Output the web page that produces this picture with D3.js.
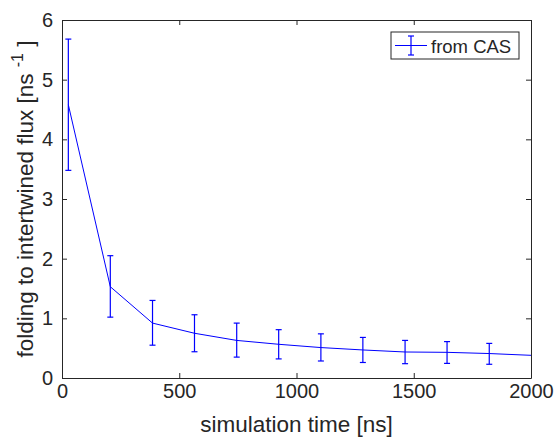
<!DOCTYPE html>
<html><head><meta charset="utf-8">
<script src="https://cdn.jsdelivr.net/npm/d3@7"></script>
<style>body{margin:0;background:#fff}svg{display:block}text{font-family:"Liberation Sans",Arial,sans-serif;fill:#262626}</style>
</head><body>
<script>
const times = [27, 206, 386, 565, 745, 924, 1104, 1283, 1463, 1642, 1822, 2000];
const flux  = [4.58, 1.53, 0.92, 0.75, 0.63, 0.565, 0.51, 0.47, 0.436, 0.43, 0.41, 0.38];
const errHi = [5.68, 2.05, 1.30, 1.06, 0.92, 0.81, 0.74, 0.68, 0.63, 0.61, 0.58, null];
const errLo = [3.48, 1.02, 0.55, 0.44, 0.35, 0.32, 0.285, 0.26, 0.24, 0.245, 0.23, null];
const xTicks = [0, 500, 1000, 1500, 2000];
const yTicks = [0, 1, 2, 3, 4, 5, 6];
const seriesName = "from CAS";

const W = 558, H = 442;
const m = {l: 62, r: 27, t: 20, b: 64};
const svg = d3.select("body").append("svg").attr("width", W).attr("height", H);
const x = d3.scaleLinear().domain([0, 2000]).range([m.l, W - m.r]);
const y = d3.scaleLinear().domain([0, 6]).range([H - m.b, m.t]);
const ax = "#262626", blue = "#0000ff";

svg.append("defs").append("clipPath").attr("id", "clip").append("rect")
  .attr("x", m.l).attr("y", m.t).attr("width", W - m.l - m.r).attr("height", H - m.t - m.b);

const g = svg.append("g").attr("clip-path", "url(#clip)");
const data = times.map((t, i) => ({t, v: flux[i], hi: errHi[i], lo: errLo[i]}));
g.append("path").datum(data)
  .attr("d", d3.line().x(d => x(d.t)).y(d => y(d.v)))
  .attr("fill", "none").attr("stroke", blue).attr("stroke-width", 1);
const eb = g.selectAll(".eb").data(data.filter(d => d.hi != null)).enter().append("g");
eb.append("line").attr("x1", d => x(d.t)).attr("x2", d => x(d.t)).attr("y1", d => y(d.hi)).attr("y2", d => y(d.lo))
  .attr("stroke", blue).attr("stroke-width", 1.2);
eb.append("line").attr("x1", d => x(d.t) - 3).attr("x2", d => x(d.t) + 3).attr("y1", d => y(d.hi)).attr("y2", d => y(d.hi))
  .attr("stroke", blue).attr("stroke-width", 1.2);
eb.append("line").attr("x1", d => x(d.t) - 3).attr("x2", d => x(d.t) + 3).attr("y1", d => y(d.lo)).attr("y2", d => y(d.lo))
  .attr("stroke", blue).attr("stroke-width", 1.2);

// axes
const fs = 20;
const xb = svg.append("g").attr("transform", `translate(0,${H - m.b})`)
  .call(d3.axisBottom(x).tickValues(xTicks).tickSizeInner(-5).tickSizeOuter(0).tickPadding(6).tickFormat(d3.format("d")));
const xt = svg.append("g").attr("transform", `translate(0,${m.t})`)
  .call(d3.axisTop(x).tickValues(xTicks).tickSizeInner(-5).tickSizeOuter(0).tickFormat(""));
const yl = svg.append("g").attr("transform", `translate(${m.l},0)`)
  .call(d3.axisLeft(y).tickValues(yTicks).tickSizeInner(-5).tickSizeOuter(0).tickPadding(9).tickFormat(d3.format("d")));
const yr = svg.append("g").attr("transform", `translate(${W - m.r},0)`)
  .call(d3.axisRight(y).tickValues(yTicks).tickSizeInner(-5).tickSizeOuter(0).tickFormat(""));
[xb, xt, yl, yr].forEach(a => {
  a.attr("font-size", fs).attr("font-family", '"Liberation Sans",Arial,sans-serif');
  a.select(".domain").attr("stroke", ax);
  a.selectAll(".tick line").attr("stroke", ax);
  a.selectAll("text").attr("fill", ax);
});

svg.append("text").attr("x", (m.l + W - m.r) / 2).attr("y", 432).attr("text-anchor", "middle")
  .attr("font-size", 22.5).text("simulation time [ns]");
const yt = svg.append("text").attr("transform", `translate(33,${(m.t + H - m.b) / 2}) rotate(-90)`)
  .attr("text-anchor", "middle").attr("font-size", 22.5).style("white-space", "pre");
yt.append("tspan").text("folding to intertwined flux [ns\u00a0");
yt.append("tspan").attr("font-size", 16).attr("dy", -10).text("-1");
yt.append("tspan").attr("dy", 10).text("\u00a0]");

// legend
const lg = svg.append("g");
lg.append("rect").attr("x", 391).attr("y", 32).attr("width", 128).attr("height", 27)
  .attr("fill", "#fff").attr("stroke", ax).attr("stroke-width", 1);
lg.append("line").attr("x1", 395).attr("x2", 427).attr("y1", 45.5).attr("y2", 45.5).attr("stroke", blue);
lg.append("line").attr("x1", 411).attr("x2", 411).attr("y1", 36).attr("y2", 55).attr("stroke", blue).attr("stroke-width", 1.2);
lg.append("line").attr("x1", 408).attr("x2", 414).attr("y1", 36).attr("y2", 36).attr("stroke", blue).attr("stroke-width", 1.2);
lg.append("line").attr("x1", 408).attr("x2", 414).attr("y1", 55).attr("y2", 55).attr("stroke", blue).attr("stroke-width", 1.2);
lg.append("text").attr("x", 431).attr("y", 52.5).attr("font-size", 18.5).text(seriesName);
</script>
</body></html>
